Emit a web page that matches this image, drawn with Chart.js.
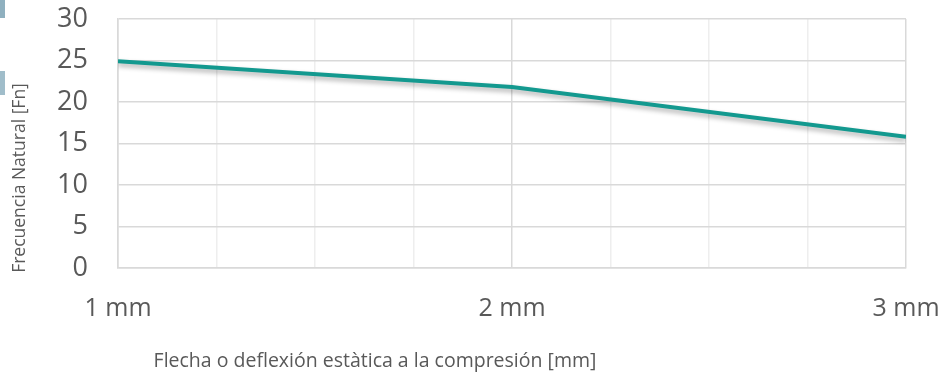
<!DOCTYPE html>
<html>
<head>
<meta charset="utf-8">
<script src="https://cdn.jsdelivr.net/npm/chart.js@4/dist/chart.umd.min.js"></script>
<style>
  html, body { margin: 0; padding: 0; background: #fff; }
  #wrap { width: 950px; height: 378px; position: relative; }
</style>
</head>
<body>
<div id="wrap"><canvas id="chart"></canvas></div>
<script>
// datos
const deflection = [1, 2, 3];            // mm
const naturalFreq = [24.9, 21.8, 15.8];  // Fn
const yTicks = [0, 5, 10, 15, 20, 25, 30];
const xTitle = 'Flecha o deflexión estàtica a la compresión [mm]';
const yTitle = 'Frecuencia Natural [Fn]';

const FONT = '"Open Sans", "Liberation Sans", sans-serif';
const GREY_TXT = '#595959';

// sombra bajo la línea
const shadowPlugin = {
  id: 'lineShadow',
  beforeDatasetDraw(chart) {
    const c = chart.ctx;
    c.save();
    c.shadowColor = 'rgba(0,0,0,0.32)';
    c.shadowBlur = 5;
    c.shadowOffsetY = 3;
  },
  afterDatasetDraw(chart) {
    chart.ctx.restore();
  }
};

// títulos de los ejes (no centrados en el área, como en el original)
const axisTitles = {
  id: 'axisTitles',
  afterDraw(chart) {
    const c = chart.ctx;
    c.save();
    c.fillStyle = GREY_TXT;
    c.textAlign = 'center';
    c.textBaseline = 'middle';
    c.font = '19.5px ' + FONT;
    c.fillText(xTitle, 375, 361);
    c.translate(20, 178);
    c.rotate(-Math.PI / 2);
    c.font = '17.5px ' + FONT;
    c.fillText(yTitle, 0, 0);
    c.restore();
  }
};

// restos de la imagen original en el borde izquierdo
const edgeBits = {
  id: 'edgeBits',
  beforeDraw(chart) {
    const c = chart.ctx;
    c.save();
    c.fillStyle = '#8fb0bf';
    c.fillRect(0, 0, 5, 18);
    c.fillStyle = '#a0bdca';
    c.fillRect(0, 71, 5, 24);
    c.restore();
  }
};

new Chart(document.getElementById('chart'), {
  type: 'line',
  data: {
    datasets: [{
      data: deflection.map((x, i) => ({ x, y: naturalFreq[i] })),
      borderColor: '#13998f',
      borderWidth: 4,
      pointRadius: 0,
      tension: 0,
      fill: false
    }]
  },
  options: {
    responsive: true,
    maintainAspectRatio: false,
    animation: false,
    layout: { padding: { top: 19, right: 44, left: 0, bottom: 0 } },
    plugins: { legend: { display: false }, tooltip: { enabled: false } },
    scales: {
      x: {
        type: 'linear',
        min: 1, max: 3,
        afterBuildTicks: s => {
          const t = [];
          for (let v = 1; v <= 3.0001; v += 0.25) t.push({ value: +v.toFixed(2) });
          s.ticks = t;
        },
        afterFit: s => { s.height = 110; s.paddingLeft = 0; s.paddingRight = 0; },
        grid: {
          drawTicks: false,
          color: ctx => (ctx.tick && ctx.tick.value % 1 === 0) ? '#d9d9d9' : '#eeeeee',
          lineWidth: 1.5
        },
        border: { display: true, color: '#d9d9d9', width: 1.5 },
        ticks: {
          autoSkip: false,
          maxRotation: 0,
          padding: 26,
          color: GREY_TXT,
          font: { family: FONT, size: 25 },
          callback: v => (v % 1 === 0) ? v + ' mm' : ''
        }
      },
      y: {
        min: 0, max: 30,
        afterBuildTicks: s => { s.ticks = yTicks.map(v => ({ value: v })); },
        afterFit: s => { s.width = 118; s.paddingTop = 0; s.paddingBottom = 0; },
        grid: { drawTicks: false, color: '#d9d9d9', lineWidth: 1.5 },
        border: { display: true, color: '#d9d9d9', width: 1.5 },
        ticks: {
          padding: 30,
          color: GREY_TXT,
          font: { family: FONT, size: 27 }
        }
      }
    }
  },
  plugins: [shadowPlugin, axisTitles, edgeBits]
});
</script>
</body>
</html>
